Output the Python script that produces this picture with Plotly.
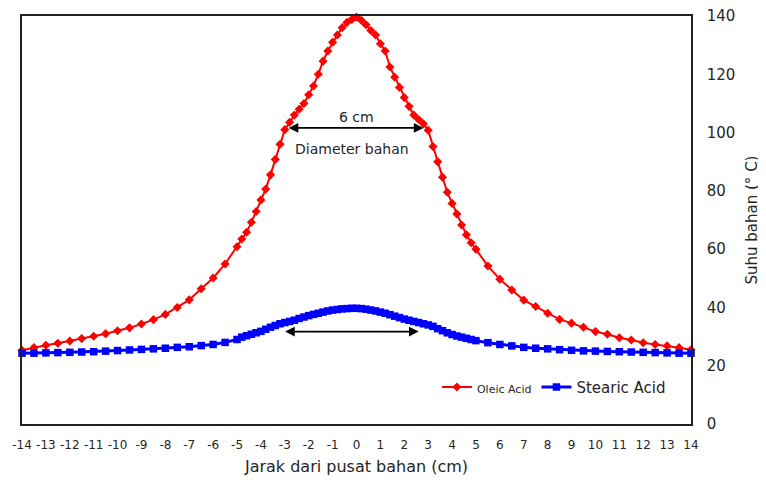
import plotly.graph_objects as go

# x positions (cm)
x_outer_left = [-14, -13.5, -13, -12.5, -12, -11.5, -11, -10.5, -10, -9.5, -9, -8.5, -8, -7.5, -7, -6.5, -6, -5.5]
x_inner = [-5.0, -4.8, -4.6, -4.4, -4.2, -4.0, -3.8, -3.6, -3.4, -3.2, -3.0, -2.8, -2.6, -2.4, -2.2, -2.0,
           -1.8, -1.6, -1.4, -1.2, -1.0, -0.8, -0.6, -0.4, -0.2, 0.0, 0.2, 0.4, 0.6, 0.8, 1.0, 1.2, 1.4,
           1.6, 1.8, 2.0, 2.2, 2.4, 2.6, 2.8, 3.0, 3.2, 3.4, 3.6, 3.8, 4.0, 4.2, 4.4, 4.6, 4.8, 5.0]
x_outer_right = [5.5, 6, 6.5, 7, 7.5, 8, 8.5, 9, 9.5, 10, 10.5, 11, 11.5, 12, 12.5, 13, 13.5, 14]
x_vals = x_outer_left + x_inner + x_outer_right

oleic = [25.3, 26.2, 27.0, 27.7, 28.5, 29.3, 30.1, 31.0, 32.0, 33.0, 34.3, 35.8, 37.6, 40.0, 42.6, 46.4, 50.1, 54.9,
         60.8, 63.5, 65.8, 69.2, 72.9, 76.9, 80.6, 85.5, 90.8, 96.0, 101.0, 103.5, 106.0, 108.0, 110.0, 113.0,
         116.0, 120.0, 124.5, 128.0, 131.0, 133.5, 136.0, 137.8, 138.8, 139.6, 138.5, 137.0, 135.0, 133.5, 130.5,
         128.0, 122.5, 119.0, 115.5, 112.0, 109.0, 106.0, 104.5, 103.0, 100.8, 95.2, 90.0, 84.7, 79.5, 75.7, 72.1,
         68.3, 64.9, 62.2, 60.0,
         54.2, 49.7, 46.0, 42.5, 40.3, 38.0, 35.9, 34.6, 33.2, 31.7, 30.8, 29.6, 28.8, 27.9, 27.3, 26.8, 26.2, 25.5]

stearic = [24.3, 24.3, 24.4, 24.5, 24.6, 24.7, 24.8, 25.0, 25.2, 25.4, 25.6, 25.8, 26.0, 26.3, 26.5, 26.9, 27.3, 28.0,
           29.0, 29.8, 30.3, 30.8, 31.3, 31.8, 32.5, 33.2, 33.8, 34.4, 34.8, 35.2, 35.6, 36.2, 36.7, 37.2, 37.6,
           38.0, 38.4, 38.8, 39.1, 39.3, 39.5, 39.6, 39.7, 39.7, 39.6, 39.4, 39.1, 38.8, 38.4, 38.0, 37.5, 37.0,
           36.5, 36.0, 35.6, 35.2, 34.8, 34.4, 34.0, 33.5, 32.7, 32.0, 31.3, 30.7, 30.2, 29.8, 29.4, 29.0, 28.6,
           27.9, 27.3, 26.8, 26.3, 26.0, 25.8, 25.5, 25.3, 25.1, 25.0, 24.9, 24.8, 24.7, 24.6, 24.5, 24.4, 24.3, 24.3]

x_ticks = list(range(-14, 15))
y_ticks = [0, 20, 40, 60, 80, 100, 120, 140]

FONT = "DejaVu Sans"
TXT = "#262626"

fig = go.Figure()
fig.add_trace(go.Scatter(
    x=x_vals, y=oleic, mode="lines+markers",
    name='<span style="font-size:11px">Oleic Acid</span>',
    line=dict(color="#ff0000", width=2),
    marker=dict(symbol="diamond", size=7, color="#ff0000"),
    cliponaxis=False,
))
fig.add_trace(go.Scatter(
    x=x_vals, y=stearic, mode="lines+markers",
    name="Stearic Acid",
    line=dict(color="#0000ff", width=3),
    marker=dict(symbol="square", size=7.5, color="#0000ff"),
    cliponaxis=False,
))

# double-headed arrows
fig.add_annotation(x=2.8, y=101.6, ax=-2.9, ay=101.6, xref="x", yref="y", axref="x", ayref="y",
                   showarrow=True, arrowhead=2, startarrowhead=2, arrowside="end+start",
                   arrowsize=1.2, arrowwidth=1.6, arrowcolor="black", text="")
fig.add_annotation(x=2.6, y=31.7, ax=-3.05, ay=31.7, xref="x", yref="y", axref="x", ayref="y",
                   showarrow=True, arrowhead=2, startarrowhead=2, arrowside="end+start",
                   arrowsize=1.2, arrowwidth=1.6, arrowcolor="black", text="")
fig.add_annotation(x=0, y=105.5, text="6 cm", showarrow=False, xref="x", yref="y",
                   font=dict(family=FONT, size=14, color=TXT))
fig.add_annotation(x=-0.2, y=94.5, text="Diameter bahan", showarrow=False, xref="x", yref="y",
                   font=dict(family=FONT, size=14, color=TXT))

# the page body has an 8px default margin, so the figure is shrunk to fit the window
fig.update_layout(
    width=758, height=476,
    margin=dict(l=14, r=75, t=8, b=60, autoexpand=False),
    paper_bgcolor="white", plot_bgcolor="white",
    font=dict(family=FONT, color=TXT),
    showlegend=True,
    legend=dict(orientation="h", x=0.97, xanchor="right", y=0.09, yanchor="middle",
                font=dict(family=FONT, size=15, color=TXT), bgcolor="rgba(0,0,0,0)",
                tracegroupgap=0),
    xaxis=dict(range=[-14, 14], tickmode="array", tickvals=x_ticks, ticktext=[str(v) for v in x_ticks],
               tickangle=0, showgrid=False, zeroline=False, showline=True, linecolor="#222",
               linewidth=1.5, mirror=True, ticks="", ticklabelstandoff=9, automargin=False,
               ticklabeloverflow="allow",
               tickfont=dict(family=FONT, size=12, color=TXT),
               title=dict(text="Jarak dari pusat bahan (cm)", standoff=10,
                          font=dict(family=FONT, size=16, color=TXT))),
    yaxis=dict(range=[0, 140], side="right", tickmode="array", tickvals=y_ticks,
               showgrid=False, zeroline=False, showline=True, linecolor="#222",
               linewidth=1.5, mirror=True, ticks="", ticklabelstandoff=11, automargin=False,
               ticklabeloverflow="allow",
               tickfont=dict(family=FONT, size=15, color=TXT),
               title=dict(text="Suhu bahan (° C)", standoff=12,
                          font=dict(family=FONT, size=15, color=TXT))),
)

fig.write_html("out.html")
